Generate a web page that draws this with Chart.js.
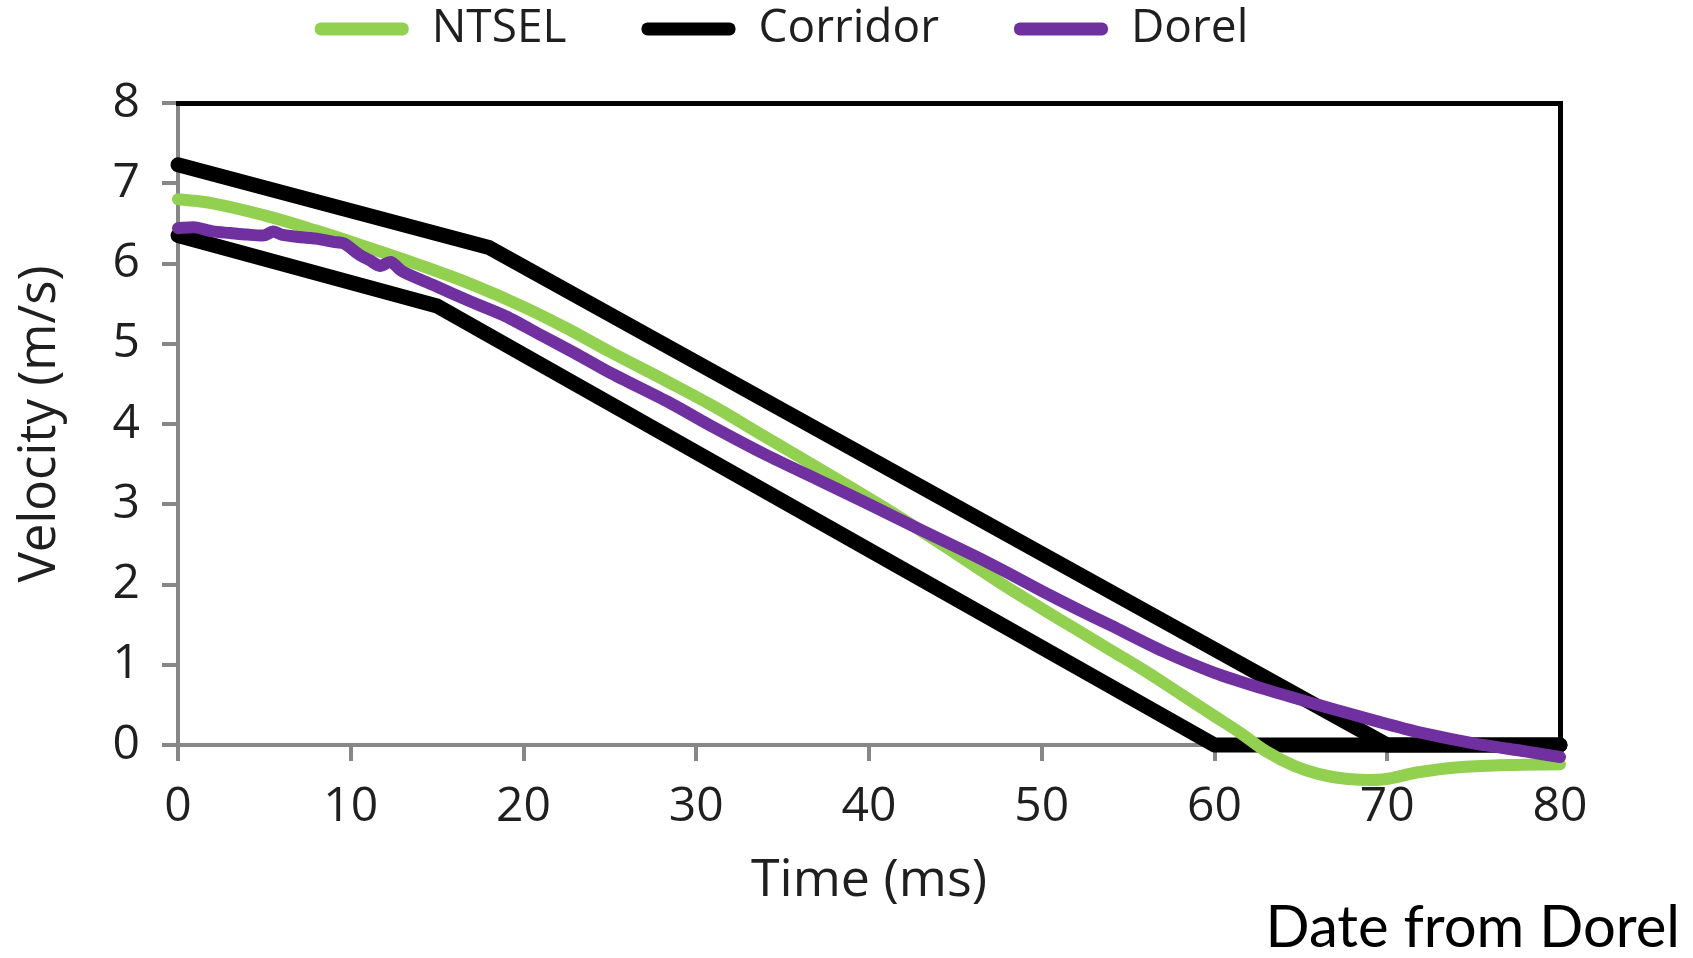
<!DOCTYPE html>
<html>
<head>
<meta charset="utf-8">
<title>Velocity vs time</title>
<script src="https://cdn.jsdelivr.net/npm/chart.js@4.4.0/dist/chart.umd.min.js"></script>
<style>
  body { margin: 0; background: #fff; }
</style>
</head>
<body>
<canvas id="myChart" width="1693" height="958"></canvas>
<script>
// Data (time in ms, velocity in m/s)
const ntselTime = [0, 2, 5, 8, 11, 14, 17, 20, 22.7, 25, 28.5, 31, 34, 37, 40.8, 44, 47.6, 50, 52, 54, 56, 58, 60, 61.5, 63, 64.6, 66, 67.6, 69.7, 71.8, 74, 77, 80];
const ntselVel = [6.80, 6.75, 6.60, 6.41, 6.20, 5.98, 5.74, 5.46, 5.17, 4.90, 4.51, 4.22, 3.84, 3.46, 2.97, 2.53, 2.02, 1.70, 1.44, 1.18, 0.92, 0.64, 0.36, 0.15, -0.08, -0.26, -0.36, -0.42, -0.43, -0.34, -0.28, -0.25, -0.24];

const dorelTime = [0, 1, 2, 3, 4, 5, 5.5, 6, 7, 8, 9, 9.6, 10.5, 11.1, 11.7, 12.3, 13, 15, 17, 19, 21, 23, 25, 28.5, 31, 34, 37, 40, 43, 46, 48, 50, 52, 54, 57, 60, 63, 66, 68, 70, 72, 75, 78, 80];
const dorelVel = [6.44, 6.45, 6.40, 6.38, 6.36, 6.35, 6.40, 6.36, 6.33, 6.31, 6.27, 6.25, 6.11, 6.04, 5.97, 6.02, 5.90, 5.71, 5.52, 5.34, 5.11, 4.88, 4.64, 4.26, 3.96, 3.62, 3.31, 3.00, 2.68, 2.37, 2.15, 1.92, 1.70, 1.49, 1.17, 0.90, 0.69, 0.50, 0.38, 0.26, 0.15, 0.02, -0.08, -0.15];

const corridorUpperTime = [0, 18, 70, 80];
const corridorUpperVel = [7.23, 6.2, 0, 0];
const corridorLowerTime = [0, 15, 60, 80];
const corridorLowerVel = [6.35, 5.47, 0, 0];

const xTicks = [0, 10, 20, 30, 40, 50, 60, 70, 80];
const yTicks = [0, 1, 2, 3, 4, 5, 6, 7, 8];

const green = '#92d050';
const purple = '#7030a0';
const grey = '#878787';

// build {x, y} points for the line charts
function toPoints(ts, vs) {
  return ts.map((t, i) => ({ x: t, y: vs[i] }));
}

Chart.defaults.font.family = "'Open Sans', sans-serif";
Chart.defaults.color = '#1f1f1f';

// text in the bottom right corner
const notePlugin = {
  id: 'note',
  afterDraw(chart) {
    const ctx = chart.ctx;
    ctx.save();
    ctx.font = '58px Lato, sans-serif';
    ctx.fillStyle = '#000';
    ctx.textAlign = 'right';
    ctx.textBaseline = 'alphabetic';
    ctx.fillText('Date from Dorel', 1680, 947);
    ctx.restore();
  }
};

const lineStyle = {
  pointRadius: 0,
  borderCapStyle: 'round',
  borderJoinStyle: 'round',
  fill: false,
  clip: false
};

const ctx = document.getElementById('myChart').getContext('2d');

new Chart(ctx, {
  type: 'line',
  data: {
    datasets: [
      { ...lineStyle, label: 'NTSEL', data: toPoints(ntselTime, ntselVel), borderColor: green, backgroundColor: green, borderWidth: 12, tension: 0.4, order: 1 },
      { ...lineStyle, label: 'Corridor', data: toPoints(corridorUpperTime, corridorUpperVel), borderColor: '#000', backgroundColor: '#000', borderWidth: 15, tension: 0, order: 2 },
      { ...lineStyle, label: 'Dorel', data: toPoints(dorelTime, dorelVel), borderColor: purple, backgroundColor: purple, borderWidth: 12, tension: 0.25, order: 0 },
      { ...lineStyle, label: 'Corridor', data: toPoints(corridorLowerTime, corridorLowerVel), borderColor: '#000', backgroundColor: '#000', borderWidth: 15, tension: 0, order: 2 }
    ]
  },
  options: {
    responsive: false,
    animation: false,
    layout: { padding: { top: -69, left: 0, right: 130, bottom: 0 } },
    plugins: {
      legend: {
        position: 'top',
        align: 'center',
        labels: {
          boxWidth: 94,
          boxHeight: 13,
          useBorderRadius: true,
          borderRadius: 6,
          padding: 75,
          font: { size: 46 },
          color: '#1f1f1f',
          filter: item => item.datasetIndex !== 3,
          sort: (a, b) => a.datasetIndex - b.datasetIndex,
          generateLabels: chart => Chart.defaults.plugins.legend.labels.generateLabels(chart).map(l => ({ ...l, lineWidth: 0 }))
        }
      },
      tooltip: { enabled: false }
    },
    scales: {
      x: {
        type: 'linear',
        min: 0,
        max: 80,
        afterBuildTicks: s => { s.ticks = xTicks.map(v => ({ value: v })); },
        ticks: { font: { size: 48 }, padding: 18, maxRotation: 0 },
        grid: { drawOnChartArea: false, color: grey, lineWidth: 4, tickLength: 16 },
        border: { color: grey, width: 4 },
        title: { display: true, text: 'Time (ms)', font: { size: 52 }, padding: { top: 0, bottom: 46 } },
        afterFit: s => { s.height = 213; }
      },
      y: {
        type: 'linear',
        min: 0,
        max: 8,
        afterBuildTicks: s => { s.ticks = yTicks.map(v => ({ value: v })); },
        ticks: { font: { size: 48 }, padding: 22 },
        grid: { drawOnChartArea: false, color: grey, lineWidth: 4, tickLength: 16 },
        border: { color: grey, width: 4 },
        title: { display: true, text: 'Velocity (m/s)', font: { size: 51 }, padding: { top: 10, bottom: 0 } },
        afterFit: s => { s.width = 178; }
      },
      // black frame on top and right
      xTop: {
        type: 'linear',
        position: 'top',
        min: 0,
        max: 80,
        ticks: { display: false },
        grid: { display: false },
        border: { color: '#000', width: 5 },
        afterFit: s => { s.height = 41; }
      },
      yRight: {
        type: 'linear',
        position: 'right',
        min: 0,
        max: 8,
        ticks: { display: false },
        grid: { display: false },
        border: { color: '#000', width: 5 },
        afterFit: s => { s.width = 3; }
      }
    }
  },
  plugins: [notePlugin]
});
</script>
</body>
</html>
